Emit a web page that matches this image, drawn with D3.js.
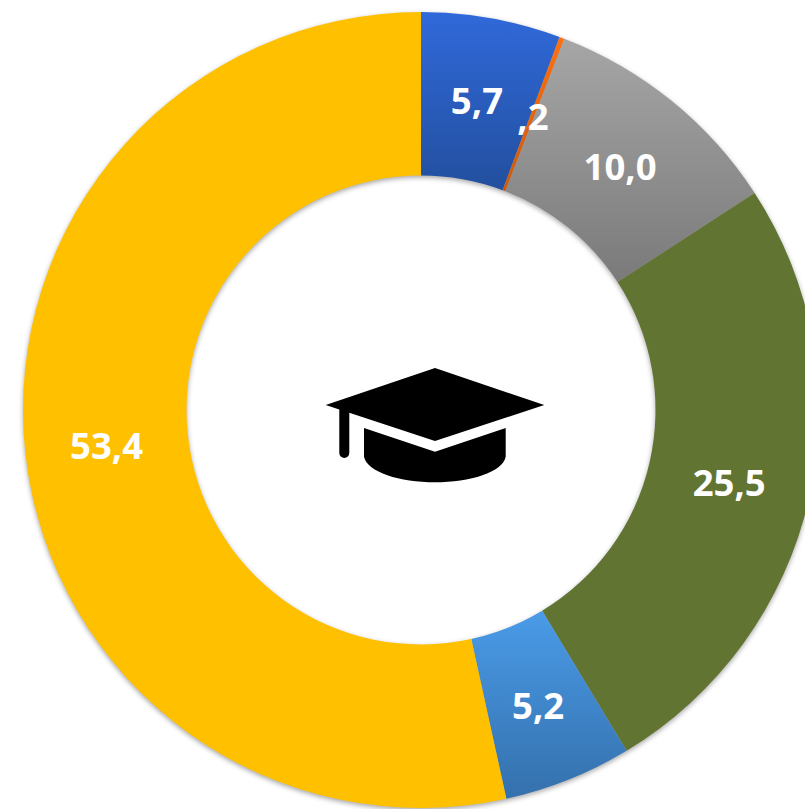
<!DOCTYPE html>
<html>
<head>
<meta charset="utf-8">
<script src="https://cdn.jsdelivr.net/npm/d3@7"></script>
<style>
  html, body { margin: 0; padding: 0; background: white; overflow: hidden; }
  svg { display: block; }
</style>
</head>
<body>
<div id="chart"></div>
<script>
var labels = ["5,7", ",2", "10,0", "25,5", "5,2", "53,4"];
var values = [5.66, 0.2, 9.96, 25.54, 5.2, 53.44];
var topColors = ["#3069da", "#ff7010", "#a6a6a6", "#627431", "#4a9be8", "#ffc000"];
var bottomColors = ["#224f9e", "#c85a10", "#7a7a7a", "#627431", "#3470ac", "#ffc000"];

var width = 805;
var height = 809;
var originX = 421;
var originY = 410;
var outerRadius = 398;
var innerRadius = 234.5;

var svg = d3.select("#chart")
            .append("svg")
            .attr("width", width)
            .attr("height", height);

var defs = svg.append("defs");

var gradients = defs.selectAll("linearGradient")
                    .data(values)
                    .enter()
                    .append("linearGradient")
                    .attr("id", (d, i) => "slice" + i)
                    .attr("x1", 0)
                    .attr("y1", 0)
                    .attr("x2", 0)
                    .attr("y2", 1);
gradients.append("stop")
            .attr("offset", "0%")
            .attr("stop-color", (d, i) => topColors[i]);
gradients.append("stop")
            .attr("offset", "100%")
            .attr("stop-color", (d, i) => bottomColors[i]);

var shadow = defs.append("filter")
                    .attr("id", "ringShadow")
                    .attr("color-interpolation-filters", "sRGB")
                    .attr("x", "-5%")
                    .attr("y", "-5%")
                    .attr("width", "110%")
                    .attr("height", "110%");
shadow.append("feDropShadow")
        .attr("dx", 0)
        .attr("dy", 2)
        .attr("stdDeviation", 2.5)
        .attr("flood-color", "#000")
        .attr("flood-opacity", 0.35);

var pie = d3.pie().sort(null).value(d => d);
var arc = d3.arc().innerRadius(innerRadius).outerRadius(outerRadius);
var slices = pie(values);

var ring = svg.append("g")
                .attr("transform", "translate(" + originX + "," + originY + ")");

ring.append("g")
    .attr("filter", "url(#ringShadow)")
    .selectAll("path")
    .data(slices)
    .enter()
    .append("path")
    .attr("d", arc)
    .attr("fill", (d, i) => "url(#slice" + i + ")");

ring.selectAll("text")
    .data(slices)
    .enter()
    .append("text")
    .attr("transform", d => "translate(" + arc.centroid(d) + ")")
    .attr("text-anchor", "middle")
    .attr("dy", "0.42em")
    .attr("fill", "white")
    .style("font-family", "'Open Sans', sans-serif")
    .style("font-weight", 700)
    .style("font-size", "36.5px")
    .text((d, i) => labels[i]);

// graduation cap in the hole
var cap = svg.append("g").attr("fill", "black");
cap.append("path")
    .attr("d", "M435 368 L544.3 405 L435 441 L349.3 412.7 L349.3 453 A5 5 0 0 1 339.3 453 L339.3 409.5 L325.7 405 Z");
cap.append("path")
    .attr("d", "M364 428 L435 451.7 L505.7 428 L505.7 456.7 C503 472 470 482.3 435 482.3 C400 482.3 367 472 364 456.7 Z");
</script>
</body>
</html>
